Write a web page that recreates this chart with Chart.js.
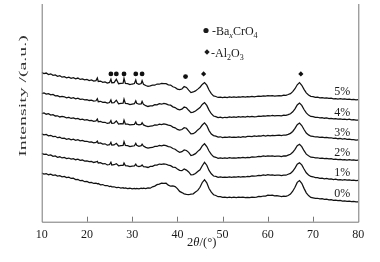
<!DOCTYPE html>
<html>
<head>
<meta charset="utf-8">
<script src="https://cdn.jsdelivr.net/npm/chart.js@4.4.1/dist/chart.umd.min.js"></script>
<style>
html, body { margin: 0; padding: 0; background: #fff; }
</style>
</head>
<body>
<canvas id="xrd" width="380" height="262"></canvas>
<script>
// 2theta grid (deg), extra points at the sharp Ba peaks
const twoTheta = [
  10,10.5,11,11.5,12,12.5,13,13.5,14,14.5,
  15,15.5,16,16.5,17,17.5,18,18.5,19,19.5,
  20,20.5,21,21.5,22,22.3,22.5,23,23.5,24,
  24.5,25,25.3,25.5,26,26.5,27,27.5,28,28.2,
  28.5,29,29.5,30,30.5,30.8,31,31.5,32,32.2,
  32.5,33,33.5,34,34.5,35,35.5,36,36.5,37,
  37.5,38,38.5,39,39.5,40,40.5,41,41.5,42,
  42.5,43,43.5,44,44.5,45,45.5,46,46.5,47,
  47.5,48,48.5,49,49.5,50,50.5,51,51.5,52,
  52.5,53,53.5,54,54.5,55,55.5,56,56.5,57,
  57.5,58,58.5,59,59.5,60,60.5,61,61.5,62,
  62.5,63,63.5,64,64.5,65,65.5,66,66.5,67,
  67.5,68,68.5,69,69.5,70,70.5,71,71.5,72,
  72.5,73,73.5,74,74.5,75,75.5,76,76.5,77,
  77.5,78,78.5,79,79.5,80
];

// intensities (a.u., stacked as in the figure)
const int0 = [
  49.7,48.6,49.1,47.9,48.4,47.3,47.7,46.6,46.9,45.8,
  46.2,45.0,45.4,44.1,44.4,43.0,43.1,41.8,42.1,40.8,
  41.0,39.8,40.1,39.0,39.4,38.6,38.9,37.6,37.9,36.7,
  36.9,35.8,36.3,35.5,35.6,34.7,35.1,34.3,34.7,34.1,
  34.5,33.7,34.1,33.4,34.0,33.5,33.9,33.5,34.3,33.8,
  34.3,33.7,34.5,34.2,35.6,36.3,37.8,38.3,39.3,39.1,
  39.2,37.3,36.2,36.6,35.8,33.7,30.9,29.7,28.4,27.9,
  27.5,28.2,28.4,30.2,31.9,35.1,40.0,42.8,39.6,33.8,
  30.1,27.5,26.7,25.5,25.6,24.8,25.1,24.6,25.0,24.6,
  25.0,24.6,25.1,24.7,25.0,24.5,24.9,24.5,25.1,24.8,
  25.0,25.7,25.5,26.2,26.1,27.0,26.8,27.1,26.3,26.5,
  26.2,25.5,26.0,25.8,26.7,28.1,31.1,35.1,40.1,41.9,
  39.1,34.0,29.4,26.6,24.8,24.4,23.8,23.9,23.3,23.4,
  22.8,23.0,22.3,22.5,21.8,22.0,21.4,21.7,21.0,21.2,
  20.7,21.0,20.4,20.6,20.2,20.3
];
const int1 = [
  69.7,68.6,69.0,67.6,68.1,66.7,67.0,65.7,66.2,65.0,
  65.5,64.4,64.9,63.8,64.3,63.2,63.7,62.5,62.9,61.8,
  62.1,61.2,61.5,60.4,60.9,61.6,59.9,60.2,59.0,59.3,
  57.9,58.3,60.6,57.8,58.1,59.2,57.0,57.4,57.4,59.9,
  57.2,57.0,56.2,56.6,56.8,58.6,57.0,56.2,56.9,57.9,
  56.2,56.0,55.3,56.3,56.4,57.6,57.8,58.8,58.4,59.0,
  58.6,57.7,57.2,55.7,55.5,53.8,52.4,52.0,53.8,52.6,
  50.7,47.8,48.1,49.1,51.2,53.0,57.1,60.5,57.6,52.3,
  48.9,46.6,46.2,45.3,45.7,45.1,45.5,45.2,45.8,45.3,
  45.7,45.4,45.9,45.5,46.0,45.6,46.2,46.0,46.7,46.4,
  46.7,47.3,47.0,47.7,47.3,47.9,47.5,47.8,47.2,47.4,
  47.4,46.9,47.5,47.4,48.4,49.3,51.4,54.6,58.6,60.1,
  57.9,53.7,49.9,47.7,46.1,45.8,44.9,45.0,44.3,44.5,
  43.8,44.1,43.4,43.6,43.0,43.3,42.7,43.0,42.5,42.8,
  42.3,42.6,42.1,42.4,41.9,42.1
];
const int2 = [
  89.6,88.6,89.0,87.6,88.1,86.8,87.1,85.7,86.1,84.9,
  85.1,84.0,84.6,83.5,84.1,83.0,83.6,82.4,82.8,81.9,
  82.0,81.1,81.4,80.4,80.8,82.1,79.9,80.3,79.2,79.4,
  78.0,78.5,80.9,78.1,78.3,79.9,77.2,77.6,77.8,81.6,
  77.8,77.5,76.6,77.0,77.4,79.8,77.9,76.9,77.5,79.1,
  77.2,75.8,75.0,75.6,75.7,76.8,76.7,77.8,77.3,78.1,
  77.6,76.6,76.2,74.6,73.9,72.0,70.8,71.4,73.2,72.6,
  70.7,67.5,68.1,69.4,71.7,73.6,77.3,79.5,76.7,72.1,
  68.6,66.3,65.7,64.7,65.1,64.5,65.0,64.6,65.3,64.8,
  65.2,64.9,65.4,65.0,65.5,65.1,65.7,65.4,66.0,65.8,
  66.0,66.6,66.3,67.0,66.6,67.2,66.8,67.1,66.6,66.9,
  66.9,66.4,67.1,67.0,67.9,68.8,70.8,73.8,77.6,79.0,
  76.6,72.4,68.9,67.2,65.8,65.7,65.0,65.2,64.6,64.8,
  64.3,64.6,64.0,64.2,63.6,63.9,63.3,63.6,63.1,63.4,
  62.9,63.2,62.7,63.0,62.5,62.7
];
const int3 = [
  110.2,110.9,109.6,110.1,108.8,109.1,107.8,108.0,106.8,107.3,
  106.9,105.8,106.4,105.3,105.9,104.8,105.4,104.2,104.6,103.7,
  104.0,103.1,103.4,102.4,102.8,104.6,101.9,102.3,101.2,101.4,
  100.2,100.7,103.1,100.3,100.5,102.7,99.5,99.9,99.8,103.6,
  99.6,99.5,98.7,99.1,99.3,101.7,99.5,98.8,99.3,100.9,
  98.7,97.8,97.0,97.5,97.6,98.6,98.4,99.4,99.0,99.7,
  99.3,98.4,98.0,96.5,95.7,94.1,93.4,94.0,95.9,95.3,
  92.4,89.6,89.7,91.2,93.6,95.4,98.6,100.8,98.1,92.9,
  89.4,87.8,87.2,86.3,86.6,85.8,86.2,85.9,86.4,86.0,
  86.3,85.9,86.5,86.1,86.7,86.2,86.9,87.1,86.8,87.4,
  87.1,87.6,87.3,87.9,87.4,88.0,87.5,88.1,87.7,88.0,
  88.2,87.8,88.4,88.3,89.1,90.1,92.0,95.1,99.0,100.6,
  98.1,94.0,90.4,88.5,87.2,87.1,86.4,86.6,86.0,86.2,
  85.7,86.0,85.4,85.6,85.0,85.3,84.6,84.9,84.3,84.6,
  83.9,84.2,83.6,83.8,83.3,83.4
];
const int4 = [
  130.7,131.4,130.1,130.6,129.3,129.8,128.4,128.5,127.3,127.9,
  127.4,126.3,126.9,125.8,126.4,125.3,125.9,124.7,125.1,124.2,
  124.5,123.6,123.9,122.9,123.3,125.5,122.4,122.8,121.7,121.9,
  120.9,121.5,124.2,121.1,121.3,123.9,120.2,120.6,120.8,125.0,
  120.6,120.3,119.4,119.9,120.3,123.2,120.7,119.8,120.2,122.6,
  119.6,118.3,117.5,118.1,118.2,119.3,119.2,120.3,119.8,120.6,
  120.2,119.1,118.8,117.1,116.4,114.7,114.1,114.8,116.9,116.2,
  113.6,111.2,111.8,112.9,114.7,116.4,119.6,121.5,118.6,113.8,
  110.1,107.8,107.2,106.2,106.6,106.0,106.5,106.1,106.8,106.3,
  106.9,106.4,107.1,106.6,107.2,106.7,107.3,106.9,107.5,107.0,
  107.2,107.7,107.4,108.0,107.6,108.2,107.8,108.3,107.9,108.1,
  108.2,107.9,108.6,108.4,109.2,110.1,112.1,115.1,119.1,121.0,
  118.6,114.4,110.9,108.7,107.3,107.1,106.3,106.5,105.9,106.1,
  105.5,105.8,105.2,105.4,104.8,105.1,104.6,104.9,104.4,104.7,
  104.2,104.5,103.9,104.2,103.7,103.5
];
const int5 = [
  152.2,151.0,151.6,150.1,150.8,149.3,149.6,148.2,148.9,147.4,
  147.9,146.8,147.4,146.2,146.9,145.8,146.5,145.1,145.7,144.6,
  145.1,144.0,144.5,143.4,143.9,146.6,143.0,143.4,142.1,142.5,
  141.4,142.0,145.3,141.7,141.9,145.2,140.7,141.0,141.2,146.2,
  141.0,140.8,139.8,140.4,140.9,144.5,141.2,140.1,140.9,143.8,
  140.2,138.9,138.0,138.6,139.3,139.2,140.4,140.2,141.1,140.8,
  140.7,139.6,139.3,137.6,136.9,135.2,134.6,135.3,137.8,136.9,
  134.2,131.7,132.3,133.4,135.2,137.1,140.0,141.9,139.2,134.3,
  130.6,128.3,127.7,126.7,127.1,126.5,127.0,126.6,127.3,126.8,
  127.2,126.9,127.4,127.0,127.5,127.1,127.6,127.3,127.9,127.4,
  127.7,128.1,127.8,128.4,128.0,128.5,128.2,128.6,128.1,128.4,
  128.6,128.3,129.0,128.9,129.7,130.6,132.6,135.6,139.6,141.8,
  139.1,135.0,131.4,129.2,127.8,127.6,126.8,127.0,126.4,126.6,
  126.0,126.3,125.7,125.9,125.3,125.6,125.1,125.4,124.9,125.2,
  124.7,125.0,124.4,124.7,124.2,124.4
];

const seriesLabels = ['0%', '1%', '2%', '3%', '4%', '5%'];
const seriesValues = [int0, int1, int2, int3, int4, int5];

// phase markers above the 5% pattern
const baPeaks = [25.3, 26.5, 28.2, 30.8, 32.2, 41.8];
const baMarkY = [150.7, 150.7, 150.7, 150.7, 150.7, 148];
const alPeaks = [45.8, 67.3];
const alMarkY = [150.7, 150.7];

const serif = '"Liberation Serif", "DejaVu Serif", serif';
const ink = '#1a1a1a';

const toPoints = (xs, ys) => xs.map((v, i) => ({ x: v, y: ys[i] }));

const lineSets = seriesValues.map((vals, i) => ({
  type: 'line',
  label: seriesLabels[i],
  data: toPoints(twoTheta, vals),
  borderColor: '#111',
  borderWidth: 1.25,
  pointRadius: 0,
  tension: 0
}));

const markerSets = [
  {
    type: 'scatter',
    label: 'BaxCrO4',
    data: toPoints(baPeaks, baMarkY),
    pointStyle: 'circle',
    pointRadius: 2.4,
    backgroundColor: '#111',
    borderWidth: 0
  },
  {
    type: 'scatter',
    label: 'Al2O3',
    data: toPoints(alPeaks, alMarkY),
    pointStyle: 'rectRot',
    pointRadius: 2.6,
    backgroundColor: '#111',
    borderWidth: 0
  }
];

// frame, inward ticks, titles, series labels and phase legend
const decor = {
  id: 'decor',
  afterDatasetsDraw(chart) {
    const { ctx, chartArea: a, scales } = chart;
    const x = scales.x, y = scales.y;
    ctx.save();

    ctx.strokeStyle = '#777';
    ctx.lineWidth = 1;
    ctx.beginPath();
    ctx.moveTo(a.left + 0.5, a.top);
    ctx.lineTo(a.left + 0.5, a.bottom + 0.5);
    ctx.lineTo(a.right + 0.5, a.bottom + 0.5);
    ctx.lineTo(a.right + 0.5, a.top);
    x.ticks.forEach(t => {
      if (t.value <= x.min || t.value >= x.max) return;
      const px = Math.round(x.getPixelForValue(t.value)) + 0.5;
      ctx.moveTo(px, a.bottom);
      ctx.lineTo(px, a.bottom - 5);
    });
    ctx.stroke();

    ctx.fillStyle = ink;

    // series labels at the right end of each pattern
    ctx.font = '12px ' + serif;
    ctx.textAlign = 'right';
    ctx.textBaseline = 'alphabetic';
    seriesValues.forEach((vals, i) => {
      const py = y.getPixelForValue(vals[vals.length - 1]) - 4.4;
      ctx.fillText(seriesLabels[i], x.getPixelForValue(78.2), py);
    });

    // phase legend
    ctx.textAlign = 'left';
    ctx.beginPath();
    ctx.arc(206, 30.5, 2.6, 0, Math.PI * 2);
    ctx.fill();
    let cx = 212;
    const put = (txt, font, dy) => {
      ctx.font = font;
      ctx.fillText(txt, cx, 35 + dy);
      cx += ctx.measureText(txt).width;
    };
    put('-Ba', '12px ' + serif, 0);
    put('x', 'italic 8px ' + serif, 3);
    put('CrO', '12px ' + serif, 0);
    put('4', '8px ' + serif, 3);

    ctx.beginPath();
    ctx.moveTo(207, 49.3); ctx.lineTo(209.7, 52); ctx.lineTo(207, 54.7); ctx.lineTo(204.3, 52);
    ctx.closePath();
    ctx.fill();
    cx = 211;
    const put2 = (txt, font, dy) => {
      ctx.font = font;
      ctx.fillText(txt, cx, 56.5 + dy);
      cx += ctx.measureText(txt).width;
    };
    put2('-Al', '12px ' + serif, 0);
    put2('2', '8px ' + serif, 3);
    put2('O', '12px ' + serif, 0);
    put2('3', '8px ' + serif, 3);

    // x title: 2θ/(°)
    const parts = [['2', '12.5px ' + serif], ['θ', 'italic 12.5px ' + serif], ['/(°)', '12.5px ' + serif]];
    let w = 0;
    parts.forEach(p => { ctx.font = p[1]; w += ctx.measureText(p[0]).width; });
    cx = 201.7 - w / 2;
    parts.forEach(p => {
      ctx.font = p[1];
      ctx.fillText(p[0], cx, 245.5);
      cx += ctx.measureText(p[0]).width;
    });

    // y title, stretched along the text like the original
    ctx.fillStyle = '#333';
    ctx.translate(22.8, 96);
    ctx.rotate(-Math.PI / 2);
    ctx.scale(1.8, 1);
    ctx.font = '11px ' + serif;
    ctx.textAlign = 'center';
    ctx.textBaseline = 'middle';
    ctx.fillText('Intensity /(a.u.)', 0, 0);

    ctx.restore();
  }
};

new Chart(document.getElementById('xrd'), {
  data: { datasets: [...lineSets, ...markerSets] },
  options: {
    responsive: false,
    animation: false,
    layout: { padding: { left: 41.7, right: 21.7, top: 0, bottom: 0 } },
    plugins: { legend: { display: false }, tooltip: { enabled: false } },
    scales: {
      x: {
        type: 'linear',
        min: 10,
        max: 80,
        grid: { display: false, drawTicks: false },
        border: { display: false },
        ticks: {
          stepSize: 10,
          padding: 6,
          color: ink,
          font: { family: serif, size: 12 }
        },
        afterFit(scale) { scale.height = 40.3; }
      },
      y: {
        display: false,
        min: 0,
        max: 222
      }
    }
  },
  plugins: [decor]
});
</script>
</body>
</html>
